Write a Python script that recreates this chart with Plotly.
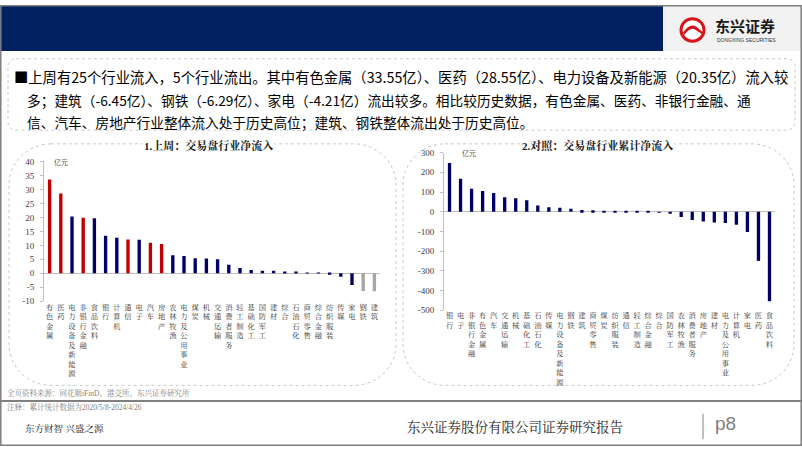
import plotly.graph_objects as go

W, H = 802, 451

# ---------------- data ----------------
week_categories = ["有色金属", "医药", "电力设备及新能源", "非银行金融", "食品饮料", "银行", "计算机",
                   "通信", "电子", "汽车", "房地产", "农林牧渔", "电力及公用事业", "煤炭", "机械",
                   "交通运输", "消费者服务", "轻工制造", "基础化工", "国防军工", "建材", "综合",
                   "石油石化", "商贸零售", "综合金融", "纺织服装", "传媒", "家电", "钢铁", "建筑"]
week_values = [33.55, 28.55, 20.35, 19.9, 19.7, 13.4, 12.7, 12.1, 12.0, 10.9, 10.5, 6.5, 6.2, 5.4,
               5.3, 5.0, 3.1, 1.9, 1.2, 0.9, 0.9, 0.5, 0.35, 0.1, 0.05, -0.5, -1.2, -4.21, -6.29, -6.45]
week_highlight = ["high", "high", "normal", "high", "normal", "normal", "normal", "high", "normal",
                  "high", "high", "normal", "normal", "normal", "normal", "normal", "normal", "normal",
                  "normal", "normal", "normal", "normal", "normal", "normal", "normal", "normal",
                  "normal", "normal", "low", "low"]

cum_categories = ["银行", "电子", "非银行金融", "有色金属", "汽车", "交通运输", "机械", "基础化工",
                  "石油石化", "传媒", "电力设备及新能源", "钢铁", "建筑", "商贸零售", "煤炭", "纺织服装",
                  "通信", "轻工制造", "综合金融", "综合", "国防军工", "农林牧渔", "消费者服务", "房地产",
                  "建材", "电力及公用事业", "计算机", "家电", "医药", "食品饮料"]
cum_values = [247, 168, 117, 105, 95, 73, 68, 58, 32, 22, 20, 15, 8, 7, 5, 3, 3, 1.5, 0.8, -0.8,
              -5, -27, -42, -50, -55, -58, -67, -103, -250, -455]

week_ticks = [-10, -5, 0, 5, 10, 15, 20, 25, 30, 35, 40]
cum_ticks = [-500, -400, -300, -200, -100, 0, 100, 200, 300]

# ---------------- styles ----------------
NAVY = "#000066"
RED = "#c00000"
GREY = "#a6a6a6"
color_map = {"high": RED, "normal": NAVY, "low": GREY}
NUM_FONT = "Liberation Serif, Noto Serif CJK SC, Noto Sans CJK SC"
CJK = "Noto Sans CJK SC, Noto Sans, sans-serif"


def X(px):
    return px / W


def Y(py):
    return 1 - py / H


def vert(s):
    return "<br>".join(list(s))


fig = go.Figure()

fig.add_trace(go.Bar(
    x=list(range(len(week_categories))), y=week_values,
    marker=dict(color=[color_map[h] for h in week_highlight], line=dict(width=0)),
    width=0.3, xaxis="x", yaxis="y", hoverinfo="skip", showlegend=False))

fig.add_trace(go.Bar(
    x=list(range(len(cum_categories))), y=cum_values,
    marker=dict(color=NAVY, line=dict(width=0)),
    width=0.3, xaxis="x2", yaxis="y2", hoverinfo="skip", showlegend=False))

axis_common = dict(showgrid=False, fixedrange=True)

fig.update_layout(
    width=W, height=H, margin=dict(l=0, r=0, t=0, b=0),
    paper_bgcolor="white", plot_bgcolor="rgba(0,0,0,0)",
    bargap=0.7,
    xaxis=dict(domain=[X(44), X(380)], range=[-0.5, 29.5], anchor="y",
               tickmode="array", tickvals=list(range(len(week_categories))),
               ticktext=[vert(c) for c in week_categories],
               tickfont=dict(size=7.3, family=NUM_FONT, color="#333333"),
               ticks="", showline=False, zeroline=False, tickangle=0, **axis_common),
    yaxis=dict(domain=[Y(303), Y(160)], range=[-10, 40], anchor="x",
               tickmode="array", tickvals=week_ticks,
               ticktext=[str(t) for t in week_ticks],
               tickfont=dict(size=9, family=NUM_FONT, color="#404040"),
               ticks="outside", ticklen=3, tickcolor="#bfbfbf", ticklabelstandoff=4,
               showline=True, linecolor="#bfbfbf", linewidth=1,
               zeroline=True, zerolinecolor="#bfbfbf", zerolinewidth=1, **axis_common),
    xaxis2=dict(domain=[X(444), X(775)], range=[-0.5, 29.5], anchor="y2",
                tickmode="array", tickvals=list(range(len(cum_categories))),
                ticktext=[vert(c) for c in cum_categories],
                tickfont=dict(size=7.3, family=NUM_FONT, color="#333333"),
                ticks="", showline=False, zeroline=False, tickangle=0, **axis_common),
    yaxis2=dict(domain=[Y(312), Y(151)], range=[-500, 300], anchor="x2",
                tickmode="array", tickvals=cum_ticks,
                ticktext=[str(t) for t in cum_ticks],
                tickfont=dict(size=9, family=NUM_FONT, color="#404040"),
                ticks="outside", ticklen=3, tickcolor="#bfbfbf", ticklabelstandoff=4,
                showline=True, linecolor="#bfbfbf", linewidth=1,
                zeroline=True, zerolinecolor="#bfbfbf", zerolinewidth=1, **axis_common),
)


def rrect(x0, y0, x1, y1, r):
    k = 0.45 * r
    pts = []
    pts.append(f"M {X(x0 + r)},{Y(y0)}")
    pts.append(f"L {X(x1 - r)},{Y(y0)}")
    pts.append(f"C {X(x1 - k)},{Y(y0)} {X(x1)},{Y(y0 + k)} {X(x1)},{Y(y0 + r)}")
    pts.append(f"L {X(x1)},{Y(y1 - r)}")
    pts.append(f"C {X(x1)},{Y(y1 - k)} {X(x1 - k)},{Y(y1)} {X(x1 - r)},{Y(y1)}")
    pts.append(f"L {X(x0 + r)},{Y(y1)}")
    pts.append(f"C {X(x0 + k)},{Y(y1)} {X(x0)},{Y(y1 - k)} {X(x0)},{Y(y1 - r)}")
    pts.append(f"L {X(x0)},{Y(y0 + r)}")
    pts.append(f"C {X(x0)},{Y(y0 + k)} {X(x0 + k)},{Y(y0)} {X(x0 + r)},{Y(y0)}")
    pts.append("Z")
    return " ".join(pts)


shapes = []
# header band
shapes.append(dict(type="rect", xref="paper", yref="paper", x0=X(0), x1=X(663), y0=Y(47), y1=Y(0),
                   fillcolor="#002060", line=dict(width=0), layer="below"))
shapes.append(dict(type="rect", xref="paper", yref="paper", x0=X(663), x1=X(802), y0=Y(47), y1=Y(0),
                   fillcolor="#f2f2f2", line=dict(width=0), layer="below"))
# logo circle
shapes.append(dict(type="circle", xref="paper", yref="paper", x0=X(681), x1=X(704), y0=Y(37), y1=Y(14),
                   fillcolor="white", line=dict(color="#d7141a", width=3)))
shapes.append(dict(type="path", xref="paper", yref="paper",
                   path=f"M {X(683)},{Y(28)} Q {X(690)},{Y(18)} {X(696)},{Y(22)} L {X(702)},{Y(27)} "
                        f"L {X(702)},{Y(30)} L {X(695)},{Y(25)} Q {X(690)},{Y(22)} {X(684)},{Y(31)} Z",
                   fillcolor="#d7141a", line=dict(width=0)))
# outer slide border
shapes.append(dict(type="rect", xref="paper", yref="paper", x0=X(0.8), x1=X(801.2), y0=Y(450.2), y1=Y(0.8),
                   line=dict(color="#7f7f7f", width=1.5)))
# summary box
shapes.append(dict(type="path", xref="paper", yref="paper", path=rrect(8, 55, 795, 128, 8),
                   line=dict(color="#c8c8c8", width=1, dash="dot"), layer="below"))
# panels
shapes.append(dict(type="path", xref="paper", yref="paper", path=rrect(9, 142, 396, 389, 42),
                   line=dict(color="#c8c8c8", width=1, dash="dot"), layer="below"))
shapes.append(dict(type="path", xref="paper", yref="paper", path=rrect(403, 142, 794, 389, 42),
                   line=dict(color="#c8c8c8", width=1, dash="dot"), layer="below"))
# footer line
shapes.append(dict(type="line", xref="paper", yref="paper", x0=0, x1=1, y0=Y(405), y1=Y(405),
                   line=dict(color="#808080", width=2)))
# page separator
shapes.append(dict(type="line", xref="paper", yref="paper", x0=X(703), x1=X(703), y0=Y(418), y1=Y(444),
                   line=dict(color="#808080", width=1)))
fig.update_layout(shapes=shapes)

ann = []


def text(x, y, s, size, color="#000000", family=CJK, xanchor="left", bold=False, bg=None):
    d = dict(xref="paper", yref="paper", x=X(x), y=Y(y), text=(f"<b>{s}</b>" if bold else s),
             showarrow=False, xanchor=xanchor, yanchor="middle",
             font=dict(size=size, color=color, family=family))
    if bg:
        d["bgcolor"] = bg
    ann.append(d)


# logo text
text(713, 21, "东兴证券", 15, "#1a1a1a", bold=True)
text(715, 36, "DONGXING SECURITIES", 5, "#333333", family="Liberation Sans, Arial")

# summary
text(12, 73, "■上周有25个行业流入，5个行业流出。其中有色金属（33.55亿）、医药（28.55亿）、电力设备及新能源（20.35亿）流入较",
     14.3, "#000000")
text(25, 97, "多；建筑（-6.45亿）、钢铁（-6.29亿）、家电（-4.21亿）流出较多。相比较历史数据，有色金属、医药、非银行金融、通",
     13.7, "#000000")
text(25, 120, "信、汽车、房地产行业整体流入处于历史高位；建筑、钢铁整体流出处于历史高位。", 13.7, "#000000")

# panel titles
text(209, 144, "1.上周：交易盘行业净流入", 11, "#1a1a1a", family=NUM_FONT, xanchor="center", bold=True, bg="white")
text(597, 144, "2.对照：交易盘行业累计净流入", 11, "#1a1a1a", family=NUM_FONT, xanchor="center", bold=True, bg="white")

# units
text(52, 161, "亿元", 7, "#595959")
text(460, 151, "亿元", 7, "#595959")

# footer
text(5, 397, "全页资料来源：同花顺iFinD、港交所、东兴证券研究所", 7.5, "#7f7f7f", family=NUM_FONT)
text(5, 411, "注释：累计统计数据为2020/5/8-2024/4/26", 7.5, "#7f7f7f", family=NUM_FONT)
text(23, 433, "东方财智 兴盛之源", 9.5, "#262626", family=NUM_FONT)
text(515, 432, "东兴证券股份有限公司证券研究报告", 13.5, "#262626", family=NUM_FONT, xanchor="center")
text(713, 428, "p8", 19, "#7f7f7f", family="Liberation Sans, Arial")

fig.update_layout(annotations=ann)

fig.write_html("out.html")
